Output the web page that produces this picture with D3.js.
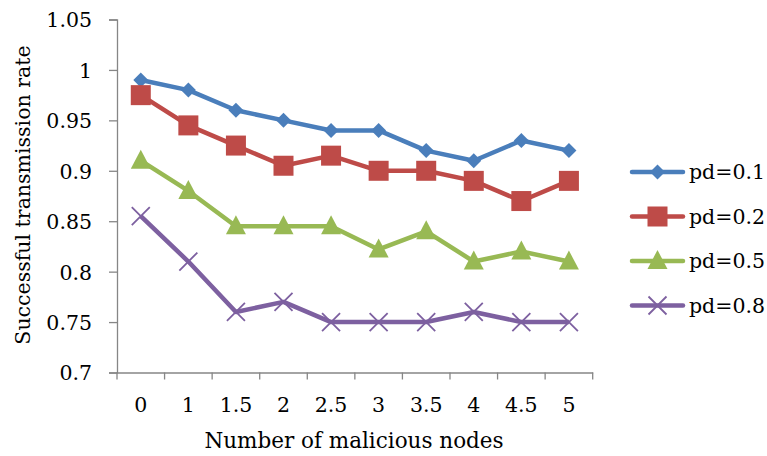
<!DOCTYPE html>
<html>
<head>
<meta charset="utf-8">
<script src="https://cdn.jsdelivr.net/npm/d3@7"></script>
<style>
  body { margin: 0; background: #fff; }
  text { font-family: "DejaVu Serif", serif; fill: #000; }
</style>
</head>
<body>
<div id="container"><svg width="767" height="456"></svg></div>
<script>
// categories on the x axis
const categories = ["0", "1", "1.5", "2", "2.5", "3", "3.5", "4", "4.5", "5"];
const yTicks = [0.7, 0.75, 0.8, 0.85, 0.9, 0.95, 1, 1.05];

// series values
const pd01 = [0.99, 0.98, 0.96, 0.95, 0.94, 0.94, 0.92, 0.91, 0.93, 0.92];
const pd02 = [0.975, 0.945, 0.925, 0.905, 0.915, 0.90, 0.90, 0.89, 0.87, 0.89];
const pd05 = [0.91, 0.88, 0.845, 0.845, 0.845, 0.822, 0.84, 0.81, 0.82, 0.81];
const pd08 = [0.855, 0.81, 0.76, 0.77, 0.75, 0.75, 0.75, 0.76, 0.75, 0.75];

const seriesNames = ["pd=0.1", "pd=0.2", "pd=0.5", "pd=0.8"];

const series = [
  { name: seriesNames[0], values: pd01, color: "#4a7ebb", marker: "diamond" },
  { name: seriesNames[1], values: pd02, color: "#be4b48", marker: "square" },
  { name: seriesNames[2], values: pd05, color: "#98b954", marker: "triangle" },
  { name: seriesNames[3], values: pd08, color: "#7d60a0", marker: "cross" }
];

const svg = d3.select("svg");
const plotLeft = 117, plotRight = 592.7, plotTop = 19.5, plotBottom = 372.5;
const fs = "20.5px";

const x = d3.scaleBand().domain(categories).range([plotLeft, plotRight]);
const y = d3.scaleLinear().domain([0.7, 1.05]).range([plotBottom, plotTop]);

// axes
const yAxis = svg.append("g")
  .attr("transform", `translate(${plotLeft},0)`)
  .call(d3.axisLeft(y).tickValues(yTicks).tickSize(8).tickPadding(17)
    .tickFormat(d => String(+d.toFixed(2))));
yAxis.select(".domain").attr("stroke", "#868686").attr("stroke-width", 1.3);
yAxis.selectAll(".tick line").attr("stroke", "#868686").attr("stroke-width", 1.3);
yAxis.selectAll(".tick text").style("font-size", fs).attr("dy", "0.36em");

const xAxis = svg.append("g")
  .attr("transform", `translate(0,${plotBottom})`)
  .call(d3.axisBottom(x).tickSize(0).tickPadding(25));
xAxis.select(".domain").attr("stroke", "#868686").attr("stroke-width", 1.3);
xAxis.selectAll(".tick text").style("font-size", fs);

// band edge ticks like excel
const edges = categories.map(c => x(c)).concat([plotRight]);
svg.append("g").selectAll("line").data(edges).enter().append("line")
  .attr("x1", d => d).attr("x2", d => d)
  .attr("y1", plotBottom).attr("y2", plotBottom + 7)
  .attr("stroke", "#868686").attr("stroke-width", 1.3);

// axis titles
svg.append("text")
  .attr("x", 354).attr("y", 448)
  .attr("text-anchor", "middle")
  .style("font-size", "21.5px")
  .text("Number of malicious nodes");

svg.append("text")
  .attr("transform", "translate(30,195) rotate(-90)")
  .attr("text-anchor", "middle")
  .style("font-size", "20.5px")
  .text("Successful transmission rate");

const cx = c => x(c) + x.bandwidth() / 2;

function drawMarker(g, type, px, py, color) {
  if (type === "diamond") {
    g.append("path").attr("d", `M${px},${py - 7.5}L${px + 7.5},${py}L${px},${py + 7.5}L${px - 7.5},${py}Z`)
      .attr("fill", color);
  } else if (type === "square") {
    g.append("rect").attr("x", px - 10).attr("y", py - 10).attr("width", 20).attr("height", 20)
      .attr("fill", color);
  } else if (type === "triangle") {
    g.append("path").attr("d", `M${px},${py - 11}L${px + 10},${py + 8}L${px - 10},${py + 8}Z`)
      .attr("fill", color);
  } else {
    g.append("path").attr("d", `M${px - 9},${py - 9}L${px + 9},${py + 9}M${px + 9},${py - 9}L${px - 9},${py + 9}`)
      .attr("stroke", color).attr("stroke-width", 1.8).attr("fill", "none");
  }
}

const line = d3.line().x((d, i) => cx(categories[i])).y(d => y(d));

series.forEach(s => {
  const g = svg.append("g");
  g.append("path").datum(s.values)
    .attr("d", line)
    .attr("fill", "none")
    .attr("stroke", s.color)
    .attr("stroke-width", 4.5)
    .attr("stroke-linejoin", "round");
  s.values.forEach((v, i) => drawMarker(g, s.marker, cx(categories[i]), y(v), s.color));
});

// legend
const legend = svg.append("g");
series.forEach((s, i) => {
  const ly = 172 + i * 44.5;
  legend.append("line")
    .attr("x1", 632).attr("x2", 683).attr("y1", ly).attr("y2", ly)
    .attr("stroke", s.color).attr("stroke-width", 4.5).attr("stroke-linecap", "round");
  drawMarker(legend, s.marker, 657.5, ly, s.color);
  legend.append("text")
    .attr("x", 689).attr("y", ly).attr("dy", "0.35em")
    .style("font-size", fs)
    .text(s.name);
});
</script>
</body>
</html>
